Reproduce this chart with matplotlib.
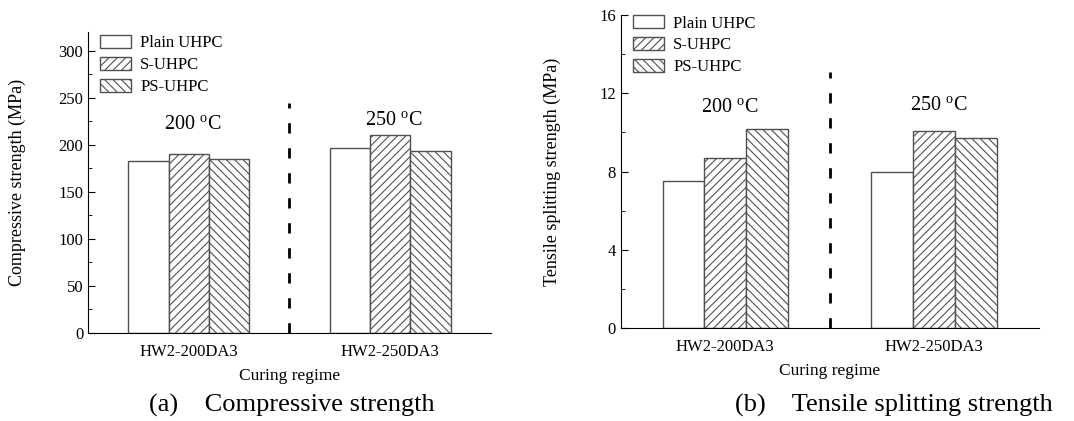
import matplotlib
matplotlib.use("Agg")
import matplotlib.pyplot as plt
from matplotlib.ticker import MultipleLocator
import numpy as np

# data
regimes = ["HW2-200DA3", "HW2-250DA3"]
series = ["Plain UHPC", "S-UHPC", "PS-UHPC"]
compressive = [[183, 197], [190, 210], [185, 194]]
tensile = [[7.5, 8.0], [8.7, 10.1], [10.2, 9.7]]
temps = ["200 $^{\\rm o}$C", "250 $^{\\rm o}$C"]

hatches = ["", "////", "\\\\\\\\"]

plt.rcParams["font.family"] = ["Liberation Serif", "DejaVu Serif"]
plt.rcParams["mathtext.fontset"] = "custom"
plt.rcParams["mathtext.rm"] = "Liberation Serif"
plt.rcParams["hatch.linewidth"] = 0.8

fig = plt.figure(figsize=(10.74, 4.21), dpi=100)
ax1 = fig.add_axes([0.082, 0.209, 0.375, 0.715])
ax2 = fig.add_axes([0.578, 0.221, 0.389, 0.743])


def draw(ax, vals, ymax, major, minor, dash_top, temp_y, leg_anchor):
    x = np.arange(len(regimes))
    w = 0.2
    for i, name in enumerate(series):
        ax.bar(x + (i - 1) * w, vals[i], w, color="white", edgecolor="#505050",
               linewidth=1.0, hatch=hatches[i], label=name)
    ax.plot([0.5, 0.5], [0, dash_top], color="black", lw=2, ls=(0, (3.7, 5.3)))
    for k, t in enumerate(temps):
        ax.text(x[k] + 0.02, temp_y[k], t, ha="center", va="center", fontsize=14.5)
    ax.set_xlim(-0.5, 1.5)
    ax.set_ylim(0, ymax)
    ax.set_xticks(x)
    ax.set_xticklabels(regimes)
    ax.yaxis.set_major_locator(MultipleLocator(major))
    ax.yaxis.set_minor_locator(MultipleLocator(minor))
    ax.tick_params(axis="y", which="major", direction="in", length=5, labelsize=12)
    ax.tick_params(axis="y", which="minor", direction="in", length=3)
    ax.tick_params(axis="x", direction="in", length=0, labelsize=12, pad=8)
    ax.spines["top"].set_visible(False)
    ax.spines["right"].set_visible(False)
    ax.set_xlabel("Curing regime", fontsize=12.5, labelpad=6)
    ax.legend(loc="upper left", frameon=False, fontsize=12, handlelength=1.85,
              handleheight=0.85, labelspacing=0.33, handletextpad=0.55,
              borderaxespad=0.0, borderpad=0.0, bbox_to_anchor=leg_anchor)


draw(ax1, compressive, 320, 50, 25, 245, [221, 225], (0.03, 0.99))
ax1.set_ylabel("Compressive strength (MPa)", fontsize=13)
ax1.yaxis.set_label_coords(-0.154, 0.5)
draw(ax2, tensile, 16, 4, 2, 13.1, [11.25, 11.35], (0.03, 1.0))
ax2.set_ylabel("Tensile splitting strength (MPa)", fontsize=13)
ax2.yaxis.set_label_coords(-0.144, 0.5)

fig.text(0.272, 0.036, "(a)    Compressive strength", fontsize=19, ha="center", va="center")
fig.text(0.832, 0.036, "(b)    Tensile splitting strength", fontsize=19, ha="center", va="center")

fig.savefig("out.png", dpi=100)
